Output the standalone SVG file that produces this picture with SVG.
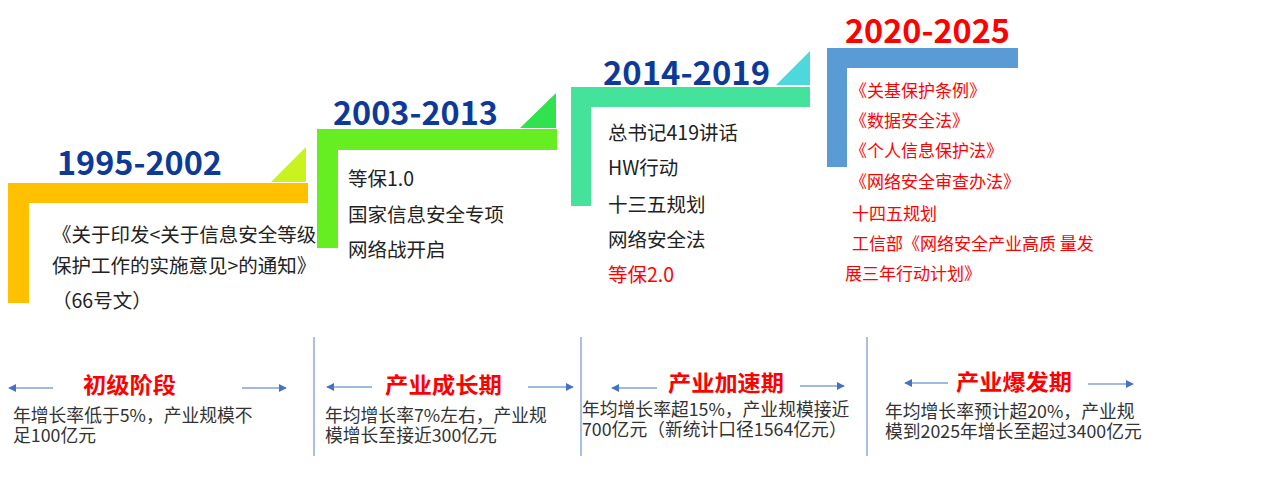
<svg xmlns="http://www.w3.org/2000/svg" width="1267" height="477" viewBox="0 0 1267 477">
<defs>
<marker id="ah" viewBox="0 0 10 10" refX="9" refY="5" markerWidth="8" markerHeight="8" markerUnits="userSpaceOnUse" orient="auto">
<path d="M0,0 L10,5 L0,10 z" fill="#4472c4"/>
</marker>
</defs>
<style>
text{font-family:"Noto Sans CJK SC","Noto Sans",sans-serif;}
.yr{font-size:33px;font-weight:bold;fill:#0d3a99;}
.yrr{font-size:33px;font-weight:bold;fill:#ff0000;}
.t{font-size:19.5px;fill:#222;}
.tr{fill:#ff0000;}
.t4{font-size:17px;fill:#ff0000;}
.ttl{font-size:22px;font-weight:bold;fill:#ff0000;}
.d{font-size:17.8px;fill:#333;}
.arr{stroke:#4472c4;stroke-width:1.2;fill:none;marker-end:url(#ah);}
.div{stroke:#8faadc;stroke-width:1.5;}
</style>
<rect width="1267" height="477" fill="#fff"/>

<g id="stage1">
<polygon points="271,182 306,147 306,182" fill="#c8f31f"/>
<path d="M8,183 H308 V203 H29 V303 H8 Z" fill="#ffc000"/>
<text class="yr" x="57" y="175" textLength="165" lengthAdjust="spacingAndGlyphs">1995-2002</text>
<text class="t"><tspan x="52" y="242">《关于印发&lt;关于信息安全等级</tspan><tspan x="52" y="273">保护工作的实施意见&gt;的通知》</tspan><tspan x="52" y="308">（66号文）</tspan></text>
</g>

<g id="stage2">
<polygon points="520,128 556,93 556,128" fill="#2fe24e"/>
<path d="M317,129 H557 V150 H338 V248 H317 Z" fill="#66ee22"/>
<text class="yr" x="333" y="125" textLength="165" lengthAdjust="spacingAndGlyphs">2003-2013</text>
<text class="t"><tspan x="348" y="186">等保1.0</tspan><tspan x="348" y="222">国家信息安全专项</tspan><tspan x="348" y="257">网络战开启</tspan></text>
</g>

<g id="stage3">
<polygon points="776,85 810,51 810,85" fill="#4fd8dc"/>
<path d="M571,87 H810 V107 H591 V206 H571 Z" fill="#44e29b"/>
<text class="yr" x="603" y="85" textLength="167" lengthAdjust="spacingAndGlyphs">2014-2019</text>
<text class="t"><tspan x="608" y="140">总书记419讲话</tspan><tspan x="608" y="175">HW行动</tspan><tspan x="608" y="212">十三五规划</tspan><tspan x="608" y="247">网络安全法</tspan><tspan class="tr" x="608" y="282">等保2.0</tspan></text>
</g>

<g id="stage4">
<path d="M827,48 H1018 V68 H847 V167 H827 Z" fill="#5b9bd5"/>
<text class="yrr" x="845" y="43" textLength="165" lengthAdjust="spacingAndGlyphs">2020-2025</text>
<text class="t4"><tspan x="850" y="97">《关基保护条例》</tspan><tspan x="850" y="127">《数据安全法》</tspan><tspan x="850" y="157">《个人信息保护法》</tspan><tspan x="850" y="188">《网络安全审查办法》</tspan><tspan x="852" y="220">十四五规划</tspan><tspan x="852" y="250">工信部《网络安全产业高质 量发</tspan><tspan x="845" y="280">展三年行动计划》</tspan></text>
</g>

<g id="period1">
<text class="ttl" x="83" y="393" textLength="93" lengthAdjust="spacingAndGlyphs">初级阶段</text>
<text class="d"><tspan x="13" y="422">年增长率低于5%，产业规模不</tspan><tspan x="13" y="442">足100亿元</tspan></text>
</g>
<g id="period2">
<text class="ttl" x="385" y="393" textLength="117" lengthAdjust="spacingAndGlyphs">产业成长期</text>
<text class="d"><tspan x="325" y="422">年均增长率7%左右，产业规</tspan><tspan x="325" y="442">模增长至接近300亿元</tspan></text>
</g>
<g id="period3">
<text class="ttl" x="668" y="391" textLength="116" lengthAdjust="spacingAndGlyphs">产业加速期</text>
<text class="d"><tspan x="582" y="416">年均增长率超15%，产业规模接近</tspan><tspan x="582" y="436">700亿元（新统计口径1564亿元）</tspan></text>
</g>
<g id="period4">
<text class="ttl" x="956" y="390" textLength="116" lengthAdjust="spacingAndGlyphs">产业爆发期</text>
<text class="d"><tspan x="885" y="418">年均增长率预计超20%，产业规</tspan><tspan x="885" y="438">模到2025年增长至超过3400亿元</tspan></text>
</g>

<g id="connectors">
<line class="div" x1="314" y1="337" x2="314" y2="456"/>
<line class="div" x1="581" y1="337" x2="581" y2="456"/>
<line class="div" x1="867" y1="337" x2="867" y2="456"/>
<line class="arr" x1="53" y1="388" x2="9" y2="388"/>
<line class="arr" x1="242" y1="388" x2="286" y2="388"/>
<line class="arr" x1="372" y1="387" x2="327" y2="387"/>
<line class="arr" x1="528" y1="387" x2="573" y2="387"/>
<line class="arr" x1="657" y1="388" x2="612" y2="388"/>
<line class="arr" x1="800" y1="386" x2="844" y2="386"/>
<line class="arr" x1="948" y1="383" x2="905" y2="383"/>
<line class="arr" x1="1088" y1="384" x2="1133" y2="384"/>
</g>
</svg>
